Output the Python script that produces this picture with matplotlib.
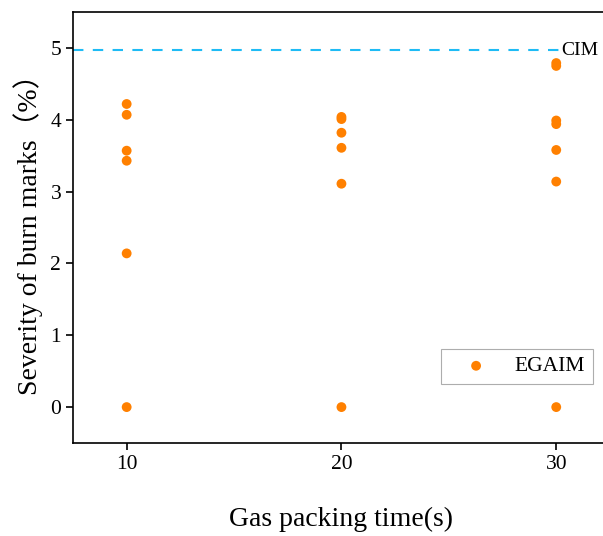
import matplotlib
matplotlib.use("Agg")
import matplotlib.pyplot as plt

plt.rcParams['font.family'] = ['Liberation Serif', 'Noto Sans CJK SC']

# EGAIM measurements by gas packing time
x_10 = [10, 10, 10, 10, 10, 10]
y_10 = [4.22, 4.07, 3.57, 3.43, 2.14, 0.0]
x_20 = [20, 20, 20, 20, 20, 20]
y_20 = [4.04, 4.01, 3.82, 3.61, 3.11, 0.0]
x_30 = [30, 30, 30, 30, 30, 30, 30]
y_30 = [4.79, 4.75, 3.99, 3.94, 3.58, 3.14, 0.0]
cim_level = 4.97
x_ticks = [10, 20, 30]
y_ticks = [0, 1, 2, 3, 4, 5]

fig = plt.figure(figsize=(6.03, 5.36), dpi=100)
ax = fig.add_axes([0.121, 0.1735, 0.8905, 0.804])

xs = x_10 + x_20 + x_30
ys = y_10 + y_20 + y_30
ax.scatter(xs, ys, s=50, color='#FF8000', edgecolors='none', label='EGAIM', zorder=3)

ax.hlines(cim_level, 7.5, 30.2, colors='#1EBBF5', linestyles=(0, (5, 4.5)), linewidth=1.5)
ax.text(30.25, cim_level, 'CIM', fontsize=14, va='center', ha='left')

ax.set_xlim(7.5, 32.5)
ax.set_ylim(-0.5, 5.5)
ax.set_xticks(x_ticks)
ax.set_yticks(y_ticks)
ax.tick_params(direction='out', length=5, width=1.2, labelsize=15.5)
for sp in ax.spines.values():
    sp.set_linewidth(1.2)

ax.set_xlabel('Gas packing time(s)', fontsize=20, labelpad=24)
ax.set_ylabel('Severity of burn marks（%）', fontsize=20, labelpad=5)

leg = ax.legend(loc='lower right', bbox_to_anchor=(0.968, 0.137), borderaxespad=0,
                fontsize=15.5, frameon=True, fancybox=False, edgecolor='#999999',
                handletextpad=0.5, borderpad=0.35, handlelength=2.6)
leg.get_frame().set_linewidth(0.8)

fig.savefig('out.png', dpi=100)
